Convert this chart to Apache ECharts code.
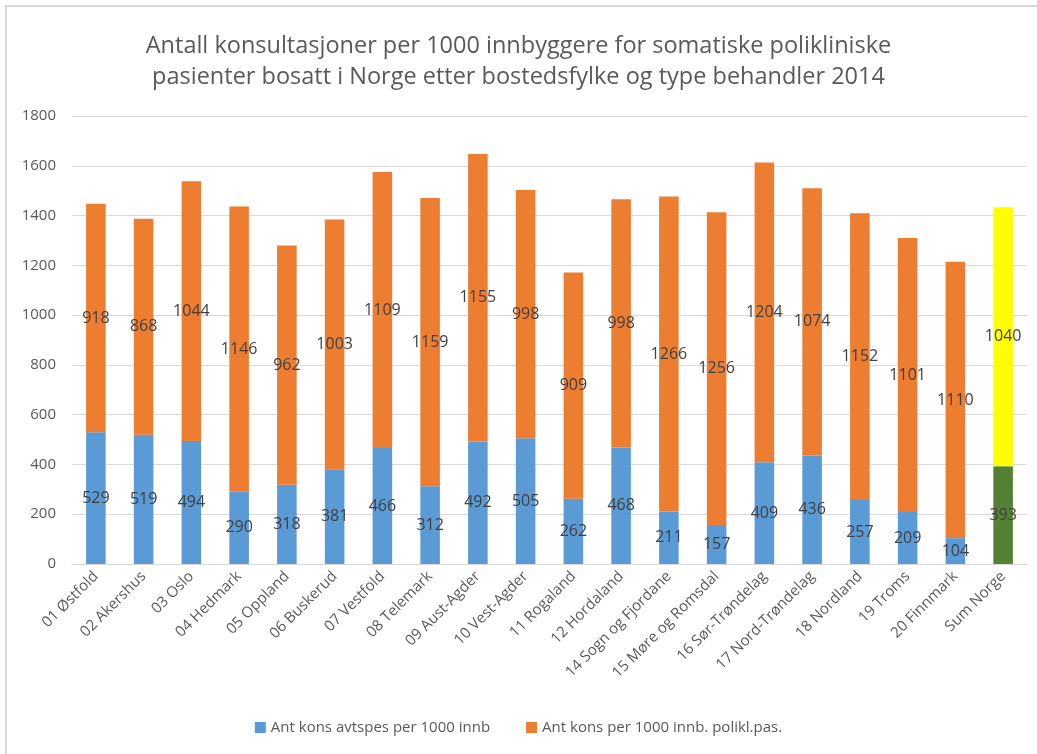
<!DOCTYPE html>
<html>
<head>
<meta charset="utf-8">
<script src="https://cdn.jsdelivr.net/npm/echarts@6/dist/echarts.min.js"></script>
<style>
  html, body { margin: 0; padding: 0; background: #fff; }
  #frame { position: absolute; left: 5px; top: 5px; width: 1040px; height: 760px; border: 2px solid #d9d9d9; box-sizing: border-box; }
  #chart { position: absolute; left: 0; top: 0; width: 1037px; height: 754px; }
</style>
</head>
<body>
<div id="frame"></div>
<div id="chart"></div>
<script>
  const categories = [
    '01 Østfold', '02 Akershus', '03 Oslo', '04 Hedmark', '05 Oppland',
    '06 Buskerud', '07 Vestfold', '08 Telemark', '09 Aust-Agder', '10 Vest-Agder',
    '11 Rogaland', '12 Hordaland', '14 Sogn og Fjordane', '15 Møre og Romsdal',
    '16 Sør-Trøndelag', '17 Nord-Trøndelag', '18 Nordland', '19 Troms',
    '20 Finnmark', 'Sum Norge'
  ];
  const avtspes = [529, 519, 494, 290, 318, 381, 466, 312, 492, 505, 262, 468, 211, 157, 409, 436, 257, 209, 104, 393];
  const poliklinisk = [918, 868, 1044, 1146, 962, 1003, 1109, 1159, 1155, 998, 909, 998, 1266, 1256, 1204, 1074, 1152, 1101, 1110, 1040];
  const yTicks = [0, 200, 400, 600, 800, 1000, 1200, 1400, 1600, 1800];

  const FONT = '"Open Sans", "Noto Sans", sans-serif';
  const BLUE = '#5b9bd5';
  const ORANGE = '#ed7d31';
  const SUM_LOW = '#548235';
  const SUM_HIGH = '#ffff00';

  function seriesData(values, lastColor) {
    return values.map(function (v, i) {
      if (i === values.length - 1) return { value: v, itemStyle: { color: lastColor } };
      return v;
    });
  }

  const label = {
    show: true,
    position: 'inside',
    color: '#404040',
    fontSize: 16,
    fontFamily: FONT
  };

  const chart = echarts.init(document.getElementById('chart'));
  chart.setOption({
    animation: false,
    textStyle: { fontFamily: FONT },
    title: {
      text: 'Antall konsultasjoner per 1000 innbyggere for somatiske polikliniske\npasienter bosatt i Norge etter bostedsfylke og type behandler 2014',
      left: 'center',
      top: 26,
      textStyle: { fontSize: 23.5, fontWeight: 'normal', color: '#595959', lineHeight: 31, fontFamily: FONT }
    },
    legend: {
      bottom: 14,
      left: 'center',
      itemWidth: 11,
      itemHeight: 11,
      itemGap: 36,
      icon: 'rect',
      textStyle: { fontSize: 15, color: '#595959' },
      data: ['Ant kons avtspes per 1000 innb', 'Ant kons per 1000 innb. polikl.pas.']
    },
    grid: { left: 72, right: 10, top: 116, bottom: 190 },
    xAxis: {
      type: 'category',
      data: categories,
      axisLine: { lineStyle: { color: '#d9d9d9' } },
      axisTick: { show: false },
      axisLabel: { rotate: 45, interval: 0, fontSize: 15, color: '#595959', margin: 10 }
    },
    yAxis: {
      type: 'value',
      min: yTicks[0],
      max: yTicks[yTicks.length - 1],
      interval: 200,
      axisLine: { show: false },
      axisTick: { show: false },
      axisLabel: { fontSize: 15, color: '#595959', margin: 16, formatter: function (v) { return String(v); } },
      splitLine: { lineStyle: { color: '#d9d9d9' } }
    },
    series: [
      {
        name: 'Ant kons avtspes per 1000 innb',
        type: 'bar',
        stack: 'total',
        barWidth: '41%',
        itemStyle: { color: BLUE },
        label: label,
        data: seriesData(avtspes, SUM_LOW)
      },
      {
        name: 'Ant kons per 1000 innb. polikl.pas.',
        type: 'bar',
        stack: 'total',
        barWidth: '41%',
        itemStyle: { color: ORANGE },
        label: label,
        data: seriesData(poliklinisk, SUM_HIGH)
      }
    ]
  });
</script>
</body>
</html>
